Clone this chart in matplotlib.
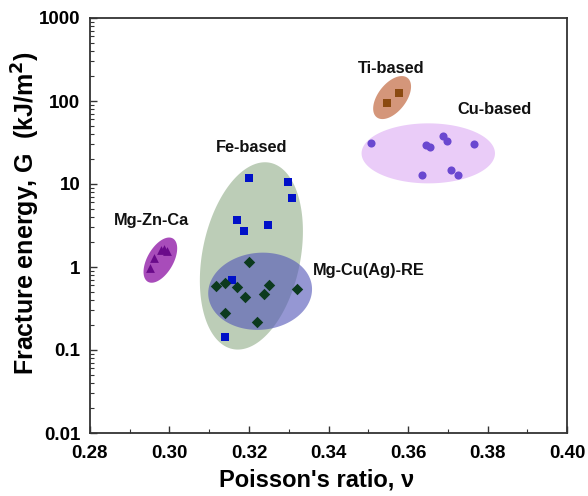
import numpy as np
import matplotlib
matplotlib.use("Agg")
import matplotlib.pyplot as plt
from matplotlib.ticker import MultipleLocator, LogLocator, NullFormatter, FixedFormatter, FixedLocator

plt.rcParams['font.family'] = ['Liberation Sans', 'DejaVu Sans']
plt.rcParams['font.weight'] = 'bold'

# ---- data ----
ti_x = [0.3547, 0.3578]
ti_y = [94, 124]

cu_x = [0.3508, 0.3645, 0.3655, 0.3687, 0.3697, 0.3766, 0.3636, 0.3707, 0.3726]
cu_y = [30.9, 29.5, 28.1, 37.9, 33.2, 30.1, 12.8, 14.8, 12.8]

fe_x = [0.3200, 0.3299, 0.3309, 0.3169, 0.3248, 0.3188, 0.3158, 0.3139]
fe_y = [11.9, 10.7, 6.7, 3.68, 3.2, 2.7, 0.70, 0.142]

mgcu_x = [0.3200, 0.3118, 0.3139, 0.3169, 0.3189, 0.3250, 0.3238, 0.3320, 0.3139, 0.3219]
mgcu_y = [1.16, 0.59, 0.64, 0.57, 0.44, 0.60, 0.47, 0.55, 0.28, 0.22]

mgzn_x = [0.2950, 0.2961, 0.2978, 0.2986, 0.2993]
mgzn_y = [0.98, 1.28, 1.62, 1.66, 1.55]

labels = ['Ti-based', 'Cu-based', 'Fe-based', 'Mg-Zn-Ca', 'Mg-Cu(Ag)-RE']
x_ticks = [0.28, 0.30, 0.32, 0.34, 0.36, 0.38, 0.40]
y_ticks = [0.01, 0.1, 1, 10, 100, 1000]
y_tick_labels = ['0.01', '0.1', '1', '10', '100', '1000']

W, H = 588, 496
fig = plt.figure(figsize=(W / 100, H / 100), dpi=100)
ax = fig.add_axes([90 / W, 1 - 433 / H, (567 - 90) / W, (433 - 18) / H])
ax.set_xlim(0.28, 0.40)
ax.set_yscale('log')
ax.set_ylim(0.01, 1000)

# pixel scales
sx = (567 - 90) / 0.12     # px per x-unit
sy = (433 - 18) / 5.0      # px per decade


def ellipse(cx, cy, a, b, ang, **kw):
    t = np.linspace(0, 2 * np.pi, 200)
    th = np.radians(ang)
    px = a * np.cos(t) * np.cos(th) - b * np.sin(t) * np.sin(th)
    py = a * np.cos(t) * np.sin(th) + b * np.sin(t) * np.cos(th)
    xs = cx + px / sx
    ys = 10 ** (np.log10(cy) + py / sy)
    ax.fill(xs, ys, lw=0, **kw)


# ellipses (center in data, semi-axes in px, angle deg)
ellipse(0.3560, 110, 25, 14, 52, color='#D4967A', zorder=1)
ellipse(0.3651, 23.4, 66.7, 30, 0, color='#EACCF8', zorder=1)
ellipse(0.3206, 1.36, 95, 49, 78.7, color='#BCCDB7', zorder=1)
ellipse(0.3228, 0.51, 52, 38.5, 5, color='#5458B8', alpha=0.62, zorder=2)
ellipse(0.2977, 1.21, 25, 13, 60, color='#A84CBA', zorder=1)

ax.scatter(ti_x, ti_y, marker='s', s=28, color='#8B4A10', zorder=5, lw=0)
ax.scatter(cu_x, cu_y, marker='o', s=34, color='#6A48D0', zorder=5, lw=0)
ax.scatter(fe_x, fe_y, marker='s', s=36, color='#0010C8', zorder=5, lw=0)
ax.scatter(mgcu_x, mgcu_y, marker='D', s=34, color='#0C3A1E', zorder=6, lw=0)
ax.scatter(mgzn_x, mgzn_y, marker='^', s=40, color='#6A0A8A', zorder=5, lw=0)

tk = dict(fontsize=11.8, fontweight='bold', color='#111111')
ax.text(0.3557, 245, labels[0], ha='center', va='center', **tk)
ax.text(0.3818, 78, labels[1], ha='center', va='center', **tk)
ax.text(0.3207, 27.2, labels[2], ha='center', va='center', **tk)
ax.text(0.2955, 3.68, labels[3], ha='center', va='center', **tk)
ax.text(0.3361, 0.92, labels[4], ha='left', va='center', **tk)

ax.xaxis.set_major_locator(FixedLocator(x_ticks))
ax.set_xticklabels([f'{v:.2f}' for v in x_ticks])
ax.xaxis.set_minor_locator(MultipleLocator(0.01))
ax.yaxis.set_major_locator(FixedLocator(y_ticks))
ax.yaxis.set_major_formatter(FixedFormatter(y_tick_labels))
ax.yaxis.set_minor_locator(LogLocator(base=10, subs=np.arange(2, 10)))
ax.yaxis.set_minor_formatter(NullFormatter())

ax.tick_params(which='both', direction='in', top=False, right=False, color='#333333')
ax.tick_params(which='major', length=5, width=1.0, labelsize=13.5)
ax.tick_params(axis='x', which='major', pad=9)
ax.tick_params(axis='y', which='major', pad=7)
ax.tick_params(which='minor', length=3, width=0.8)
for lab in ax.get_xticklabels() + ax.get_yticklabels():
    lab.set_fontweight('bold')

for sp in ax.spines.values():
    sp.set_linewidth(1.3)
    sp.set_color('#333333')

ax.set_xlabel("Poisson's ratio, ν", fontsize=17, fontweight='bold')
ax.xaxis.set_label_coords(0.474, -0.085)
ax.set_ylabel("Fracture energy, G  (kJ/m$^\\mathbf{2}$)", fontsize=18, fontweight='bold')
ax.yaxis.set_label_coords(-0.10, 0.53)

fig.savefig('out.png', dpi=100)
